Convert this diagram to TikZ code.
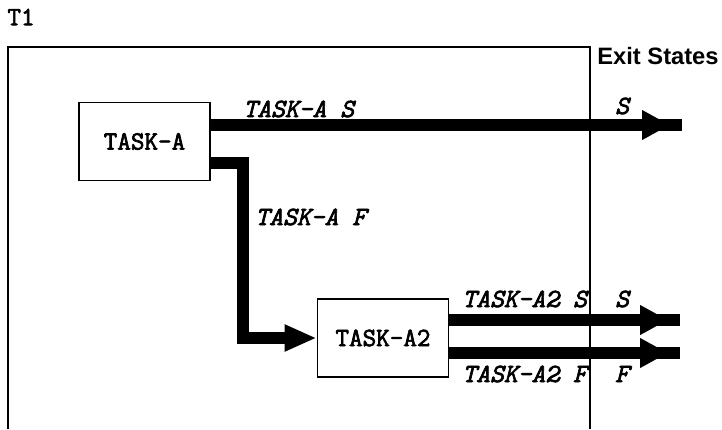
\documentclass[tikz,border=0pt]{standalone}
\usepackage{fontspec}
\setsansfont{Liberation Sans}
\newfontfamily\taskfont[FakeBold=2.5]{Latin Modern Mono}
\usetikzlibrary{arrows.meta,decorations.markings}

\begin{document}
\begin{tikzpicture}[x=0.02cm,y=-0.02cm,
        taskbox/.style={draw,line width=1.1pt,minimum width=2.62cm,minimum height=1.56cm,inner sep=0pt,font=\taskfont\fontsize{15}{17}\selectfont},
        flow/.style={line width=6.8pt},
        exitflow/.style={flow,postaction={decorate},decoration={markings,mark=at position -0.24cm with {\arrow{Triangle[length=0.56cm,width=0.56cm]}}}},
        lbl/.style={inner sep=0pt,font=\taskfont\itshape\fontsize{15}{17}\selectfont}]
        \useasboundingbox (0,0) rectangle (722,429);
        \node[inner sep=0pt,font=\taskfont\fontsize{15}{17}\selectfont] (t1) at (21,17) {T1};
        \draw[line width=1.1pt] (8,429) |- (590,47) -- (590,429);
        \node[anchor=west,inner sep=0pt,font=\sffamily\bfseries\fontsize{13.5}{15}\selectfont] (exits) at (597,56) {Exit States};
        \node[taskbox] (taska) at (144.5,141.5) {TASK-A};
        \node[taskbox] (taska2) at (383,338) {TASK-A2};
        % exits and turning point
        \coordinate (sEnd) at (682,125);
        \coordinate (fTurn) at (243,163);
        \coordinate (s2End) at (680,320);
        \coordinate (f2End) at (680,353);
        \draw[exitflow] (taska.east |- sEnd) -- (sEnd);
        \draw[flow,-{Triangle[length=0.64cm,width=0.5cm]}] (taska.east |- fTurn) -- (fTurn) |- (taska2.west);
        \draw[exitflow] (taska2.east |- s2End) -- (s2End);
        \draw[exitflow] (taska2.east |- f2End) -- (f2End);
        % labels
        \node[lbl,anchor=west] (las) at (243,109) {TASK-A S};
        \node[lbl] (sout) at (622,106) {S};
        \node[lbl,anchor=west] (laf) at (255,217) {TASK-A F};
        \node[lbl,anchor=west] (la2s) at (462,299) {TASK-A2 S};
        \node[lbl] (s2out) at (622,299) {S};
        \node[lbl,anchor=west] (la2f) at (462,374) {TASK-A2 F};
        \node[lbl] (f2out) at (622,374) {F};
\end{tikzpicture}
\end{document}
